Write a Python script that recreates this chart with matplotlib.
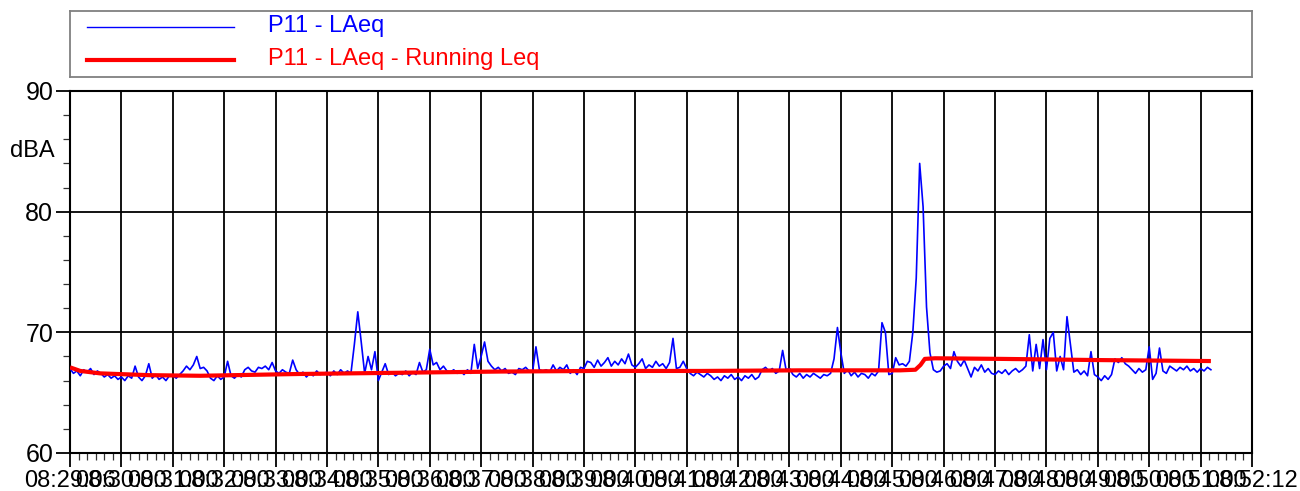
import numpy as np
import matplotlib
matplotlib.use("Agg")
import matplotlib.pyplot as plt
from matplotlib.ticker import MultipleLocator

plt.rcParams['font.family'] = ['Liberation Sans', 'DejaVu Sans']

# P11 - LAeq, one value every 4 s from the start of the record
sample_s = 4
laeq = [
    67.0, 66.6, 66.8, 66.4, 66.9, 66.7, 67.0, 66.5, 66.8, 66.6, 66.3, 66.5, 66.2, 66.4, 66.1,
    66.3, 66.0, 66.4, 66.2, 67.2, 66.3, 66.0, 66.4, 67.4, 66.2, 66.5, 66.1, 66.3, 66.0, 66.4,
    66.4, 66.2, 66.5, 66.8, 67.2, 66.9, 67.3, 68.0, 67.0, 67.1, 66.8, 66.2, 66.0, 66.4, 66.1,
    66.3, 67.6, 66.4, 66.2, 66.5, 66.3, 66.9, 67.1, 66.8, 66.7, 67.1, 67.0, 67.2, 66.9, 67.5,
    66.8, 66.6, 66.9, 66.7, 66.6, 67.7, 66.9, 66.5, 66.7, 66.3, 66.6, 66.4, 66.8, 66.5, 66.6,
    66.7, 66.4, 66.8, 66.5, 66.9, 66.6, 66.8, 66.6, 69.0, 71.7, 69.2, 66.6, 68.0, 66.9, 68.4,
    66.0, 66.7, 67.4, 66.5, 66.7, 66.4, 66.6, 66.5, 66.8, 66.4, 66.7, 66.5, 67.5, 66.7, 66.9,
    68.6, 67.3, 67.5, 66.9, 67.2, 66.8, 66.7, 66.9, 66.6, 66.8, 66.5, 66.9, 66.6, 69.0, 67.0,
    68.0, 69.2, 67.6, 67.2, 66.9, 67.1, 66.8, 67.0, 66.6, 66.7, 66.5, 67.0, 66.9, 67.1, 66.8,
    66.7, 68.8, 66.9, 66.8, 66.9, 66.7, 67.3, 66.8, 67.1, 66.9, 67.3, 66.6, 66.9, 66.5, 67.1,
    67.0, 67.6, 67.5, 67.1, 67.7, 67.2, 67.5, 67.9, 67.2, 67.6, 67.3, 67.8, 67.4, 68.2, 67.3,
    67.1, 67.4, 67.8, 67.0, 67.3, 67.1, 67.6, 67.2, 67.4, 67.0, 67.5, 69.5, 67.0, 67.1, 67.6,
    67.0, 66.6, 66.4, 66.7, 66.5, 66.3, 66.6, 66.4, 66.1, 66.3, 66.0, 66.4, 66.2, 66.5, 66.1,
    66.3, 66.0, 66.4, 66.2, 66.5, 66.1, 66.3, 66.9, 67.1, 66.8, 67.0, 66.6, 66.8, 68.5, 66.9,
    67.0, 66.5, 66.3, 66.6, 66.2, 66.5, 66.3, 66.6, 66.4, 66.2, 66.5, 66.4, 66.6, 67.8, 70.4,
    68.3, 66.6, 66.9, 66.4, 66.7, 66.3, 66.6, 66.5, 66.2, 66.6, 66.4, 66.8, 70.8, 70.0, 66.5,
    66.6, 67.9, 67.3, 67.4, 67.2, 67.6, 70.0, 74.5, 84.0, 80.4, 72.1, 68.3, 66.9, 66.7, 66.8,
    67.2, 67.4, 67.0, 68.4, 67.6, 67.2, 67.7, 67.0, 66.3, 67.1, 66.8, 67.3, 66.7, 67.0, 66.6,
    66.5, 66.8, 66.6, 66.9, 66.5, 66.8, 67.0, 66.7, 66.9, 67.2, 69.8, 66.8, 69.0, 67.0, 69.4,
    66.9, 69.5, 70.0, 66.8, 68.0, 66.9, 71.3, 69.0, 66.7, 66.9, 66.5, 66.8, 66.4, 68.4, 66.5,
    66.3, 66.0, 66.4, 66.1, 66.5, 67.8, 67.5, 67.9, 67.4, 67.2, 66.9, 66.6, 67.0, 66.7, 66.9,
    68.8, 66.1, 66.6, 68.7, 66.8, 66.6, 67.2, 67.0, 66.8, 67.1, 66.9, 67.2, 66.8, 67.0, 66.7,
    67.0, 66.8, 67.1, 66.9,
]

# running Leq, seconds from start / dBA
running_t = [0, 12, 35, 93, 152, 269, 385, 502, 619, 736, 852, 969, 987, 993, 998, 1010, 1086, 1203, 1332]
running_leq = [67.1, 66.8, 66.6, 66.45, 66.4, 66.55, 66.65, 66.75, 66.8, 66.8, 66.85, 66.85,
               66.9, 67.3, 67.8, 67.85, 67.8, 67.7, 67.62]

tick_labels = ["08:29:06", "08:30:00", "08:31:00", "08:32:00", "08:33:00", "08:34:00",
               "08:35:00", "08:36:00", "08:37:00", "08:38:00", "08:39:00", "08:40:00",
               "08:41:00", "08:42:00", "08:43:00", "08:44:00", "08:45:00", "08:46:00",
               "08:47:00", "08:48:00", "08:49:00", "08:50:00", "08:51:00", "08:52:12"]

t = np.arange(len(laeq)) * sample_s

fig = plt.figure(figsize=(13, 4.91), dpi=100)
ax = fig.add_axes([70 / 1300, 1 - 453 / 491, (1252 - 70) / 1300, (453 - 91) / 491])

ax.plot(t, laeq, color="#0000ff", lw=1.2, zorder=3)
ax.plot(running_t, running_leq, color="#ff0000", lw=3, zorder=4, solid_capstyle="butt")

ax.set_xlim(0, 60 * (len(tick_labels) - 1))
ax.set_ylim(60, 90)
ax.set_xticks(np.arange(len(tick_labels)) * 60)
ax.set_xticklabels(tick_labels, fontsize=17)
ax.xaxis.set_minor_locator(MultipleLocator(10))
ax.set_yticks([60, 70, 80, 90])
ax.yaxis.set_minor_locator(MultipleLocator(2))
ax.tick_params(axis="y", labelsize=18)
ax.tick_params(which="major", length=10, width=1.3, color="black", pad=2)
ax.tick_params(which="minor", length=5, width=0.9, color="#333333")
ax.grid(True, which="major", color="black", lw=1.3)
for s in ax.spines.values():
    s.set_linewidth(1.5)
    s.set_color("black")
ax.text(-0.013, 85, "dBA", transform=ax.get_yaxis_transform(), ha="right", va="center",
        fontsize=17)

# legend box spanning the plot width
lg = fig.add_axes([70 / 1300, 1 - 77 / 491, (1252 - 70) / 1300, (77 - 11) / 491])
lg.set_xlim(70, 1252)
lg.set_ylim(77, 11)
lg.set_xticks([])
lg.set_yticks([])
for s in lg.spines.values():
    s.set_color("#808080")
    s.set_linewidth(1.3)
lg.plot([87, 234], [27, 27], color="#0000ff", lw=1)
lg.plot([87, 234], [60, 60], color="#ff0000", lw=3)
lg.text(268, 26, "P11 - LAeq", color="#0000ff", fontsize=17, va="center")
lg.text(268, 59, "P11 - LAeq - Running Leq", color="#ff0000", fontsize=17, va="center")

fig.savefig("out.png", dpi=100)
